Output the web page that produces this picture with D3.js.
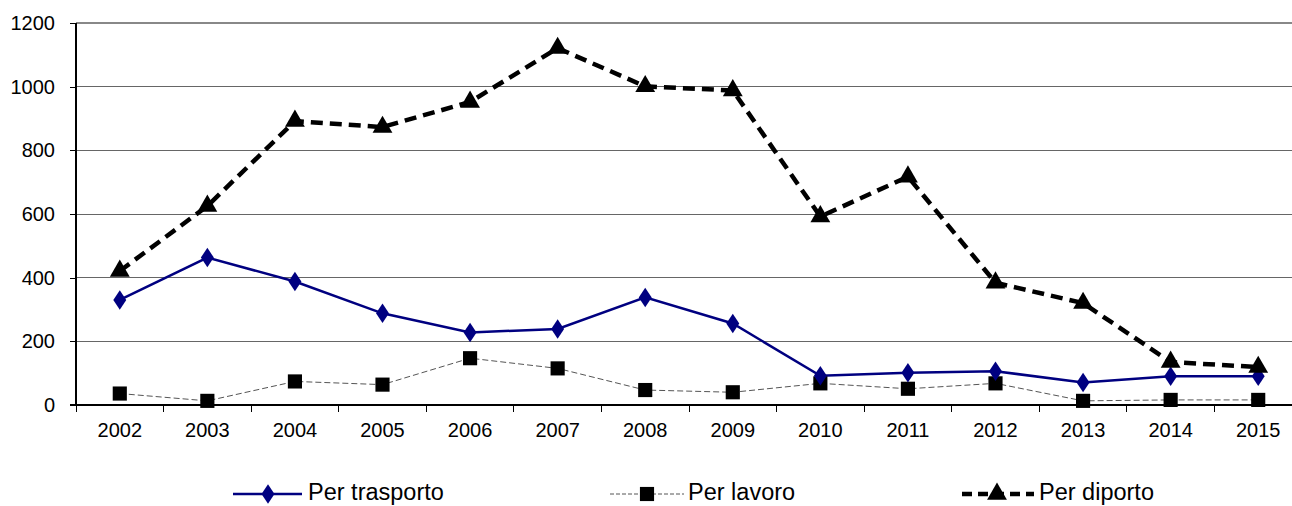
<!DOCTYPE html>
<html>
<head>
<meta charset="utf-8">
<script src="https://cdn.jsdelivr.net/npm/d3@7"></script>
<style>
  html, body { margin: 0; padding: 0; background: #fff; }
  svg { display: block; font-family: "Liberation Sans", Arial, sans-serif; }
</style>
</head>
<body>
<svg id="chart" width="1292" height="506"></svg>
<script>
const years = ["2002","2003","2004","2005","2006","2007","2008","2009","2010","2011","2012","2013","2014","2015"];
const perTrasporto = [330, 463, 388, 288, 228, 239, 338, 256, 92, 101, 106, 71, 90, 90];
const perLavoro    = [36, 13, 74, 64, 147, 115, 47, 40, 68, 51, 68, 13, 16, 16];
const perDiporto   = [421, 625, 892, 873, 952, 1121, 1001, 988, 592, 717, 384, 320, 135, 119];
const yTicks = [0, 200, 400, 600, 800, 1000, 1200];
const seriesNames = ["Per trasporto", "Per lavoro", "Per diporto"];

const svg = d3.select("#chart");
const mLeft = 76, mRight = 1302, mTop = 23, mBottom = 405;

const x = d3.scaleBand().domain(years).range([mLeft, mRight]).paddingInner(0).paddingOuter(0);
const y = d3.scaleLinear().domain([0, 1200]).range([mBottom, mTop]);
const cx = d => x(d) + x.bandwidth() / 2;

// grid lines
svg.append("g").selectAll("line").data(yTicks.filter(t => t > 0)).join("line")
  .attr("x1", mLeft).attr("x2", 1292)
  .attr("y1", d => y(d)).attr("y2", d => y(d))
  .attr("stroke", d => d === 1200 ? "#888" : "#666")
  .attr("stroke-width", d => d === 1200 ? 2 : 1)
  .attr("shape-rendering", "crispEdges");

// y axis
const yAxis = d3.axisLeft(y).tickValues(yTicks).tickSize(6).tickPadding(15).tickFormat(d3.format("d"));
const gy = svg.append("g").attr("transform", `translate(${mLeft},0)`).call(yAxis);
gy.select(".domain").attr("stroke", "#000").attr("stroke-width", 2).attr("d", `M0,${mTop}V${mBottom}`);
gy.selectAll(".tick line").attr("stroke", "#000").attr("shape-rendering", "crispEdges");
gy.selectAll(".tick text").attr("font-size", 20).attr("fill", "#000")
  .attr("font-family", "'Liberation Sans', Arial, sans-serif");

// x axis
const xAxis = d3.axisBottom(x).tickSize(0).tickPadding(18);
const gx = svg.append("g").attr("transform", `translate(0,${mBottom})`).call(xAxis);
gx.select(".domain").attr("stroke", "#000").attr("stroke-width", 2).attr("d", `M${mLeft - 6},0H1292`);
gx.selectAll(".tick text").attr("font-size", 20).attr("fill", "#000")
  .attr("font-family", "'Liberation Sans', Arial, sans-serif");
// boundary ticks
svg.append("g").selectAll("line").data(years).join("line")
  .attr("x1", d => x(d)).attr("x2", d => x(d))
  .attr("y1", mBottom).attr("y2", mBottom + 7)
  .attr("stroke", "#000").attr("stroke-width", 1).attr("shape-rendering", "crispEdges");

const line = d3.line().x((d, i) => cx(years[i])).y(d => y(d));

// Per lavoro
svg.append("path").datum(perLavoro).attr("d", line)
  .attr("fill", "none").attr("stroke", "#555").attr("stroke-width", 1).attr("stroke-dasharray", "6,3");
// Per trasporto
svg.append("path").datum(perTrasporto).attr("d", line)
  .attr("fill", "none").attr("stroke", "#000080").attr("stroke-width", 2.5);
// Per diporto
svg.append("path").datum(perDiporto).attr("d", line)
  .attr("fill", "none").attr("stroke", "#000").attr("stroke-width", 4.5).attr("stroke-dasharray", "12,7");

const diamond = d3.symbol().type(d3.symbolDiamond).size(110);
const square = d3.symbol().type(d3.symbolSquare).size(200);
const triangle = d3.symbol().type(d3.symbolTriangle).size(170);

svg.append("g").selectAll("path").data(perLavoro).join("path")
  .attr("d", square).attr("transform", (d, i) => `translate(${cx(years[i])},${y(d)})`).attr("fill", "#000");
svg.append("g").selectAll("path").data(perTrasporto).join("path")
  .attr("d", diamond).attr("transform", (d, i) => `translate(${cx(years[i])},${y(d)}) scale(1.15,1)`).attr("fill", "#000080");
svg.append("g").selectAll("path").data(perDiporto).join("path")
  .attr("d", triangle).attr("transform", (d, i) => `translate(${cx(years[i])},${y(d)})`).attr("fill", "#000");

// legend
const ly = 494;
const lg = svg.append("g");
const items = [
  {name: seriesNames[0], x1: 233, x2: 302, mx: 268, tx: 308, color: "#000080", w: 2.5, dash: null, sym: diamond, fill: "#000080", sc: "scale(1.15,1)"},
  {name: seriesNames[1], x1: 610, x2: 684, mx: 647, tx: 688, color: "#555", w: 1, dash: "4,2", sym: square, fill: "#000", sc: ""},
  {name: seriesNames[2], x1: 962, x2: 1034, mx: 997, tx: 1039, color: "#000", w: 4.5, dash: "10,6", sym: triangle, fill: "#000", sc: ""}
];
items.forEach(it => {
  lg.append("line").attr("x1", it.x1).attr("x2", it.x2).attr("y1", ly).attr("y2", ly)
    .attr("stroke", it.color).attr("stroke-width", it.w).attr("stroke-dasharray", it.dash);
  lg.append("path").attr("d", it.sym).attr("transform", `translate(${it.mx},${ly}) ${it.sc}`).attr("fill", it.fill);
  lg.append("text").attr("x", it.tx).attr("y", 500).attr("font-size", 23.5).attr("fill", "#000")
    .text(it.name);
});
</script>
</body>
</html>
